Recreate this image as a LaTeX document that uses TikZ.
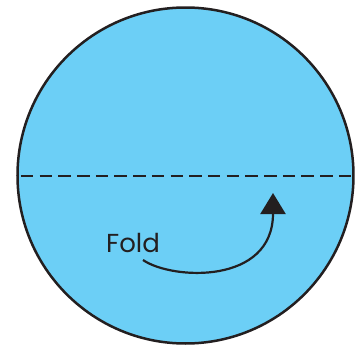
\documentclass[tikz,border=0pt]{standalone}
\usepackage{fontspec}
\setmainfont{Poppins}
\usetikzlibrary{arrows.meta}
\definecolor{disc}{RGB}{108,207,246}
\definecolor{ink}{RGB}{35,31,32}
\tikzset{
  disc/.style={circle, draw=ink, line width=2.5pt, fill=disc, minimum size=336pt, inner sep=0pt},
  foldline/.style={draw=ink, line width=2.8pt, dash pattern=on 12.5pt off 6.2pt},
  foldarrow/.style={draw=ink, line width=2.2pt, -{Triangle[width=25pt,length=21pt]}},
  lbl/.style={text=ink, font=\fontsize{26}{28}\selectfont, inner sep=0pt, anchor=base west}
}
\begin{document}
\begin{tikzpicture}[x=1pt,y=-1pt]
\useasboundingbox (0,0) rectangle (360,346);
\node[disc] (c) at (185.5,175.5) {};
\coordinate (dl) at (21,176);
\coordinate (dr) at (351,176);
\draw[foldline] (dl) -- (dr);
\coordinate (as) at (143,260);
\coordinate (ae) at (273,193);
\draw[foldarrow] (as) .. controls (172,280) and (273,285) .. (ae);
\node[lbl] (fold) at (106,252) {Fold};
\end{tikzpicture}
\end{document}
